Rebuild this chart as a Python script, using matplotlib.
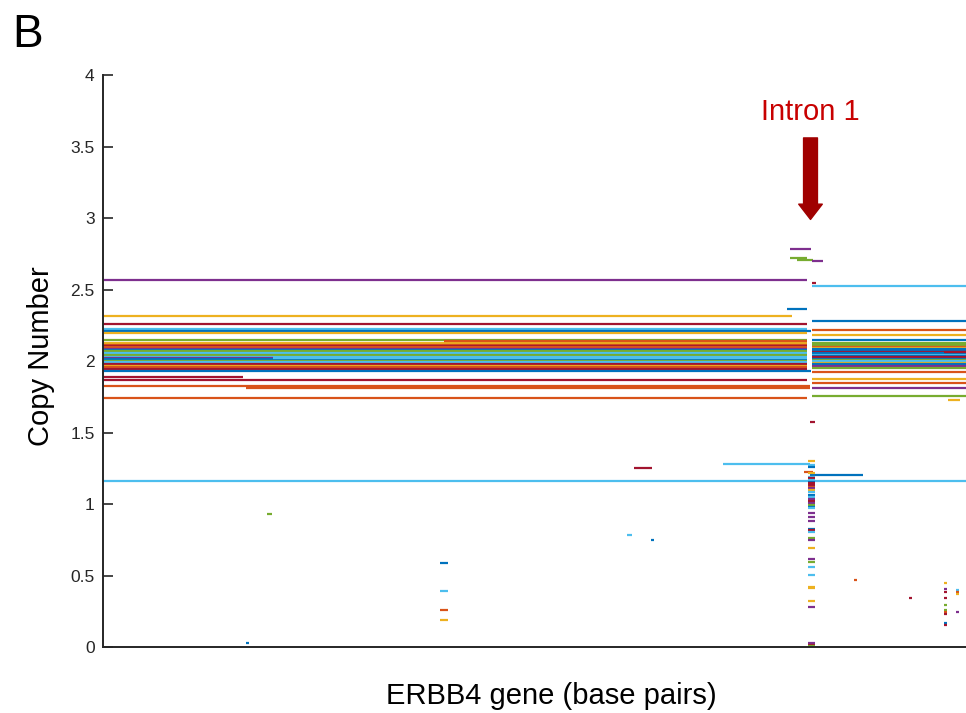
import matplotlib
matplotlib.use('Agg')
import matplotlib.pyplot as plt
from matplotlib.patches import FancyArrowPatch

plt.rcParams['font.family'] = ['Liberation Sans', 'DejaVu Sans']

# MATLAB default line colours
palette = {'b': '#0072BD', 'o': '#D95319', 'y': '#EDB120', 'p': '#7E2F8E',
           'g': '#77AC30', 'c': '#4DBEEE', 'r': '#A2142F'}

# gene length in kb (x axis has no ticks)
gene_len = 1160

# segments before intron 1 (start at 0 kb)
left_cn = [2.566, 2.315, 2.26, 2.226, 2.212, 2.198, 2.149,
           2.124, 2.114, 2.105, 2.096, 2.086, 2.077, 2.068, 2.058, 2.049,
           2.040, 2.030, 2.021, 2.012, 2.002, 1.993, 1.979, 1.965, 1.956,
           1.946, 1.928, 1.89, 1.865, 1.828, 1.743]
left_end = [946, 926, 946, 946, 952, 946, 946,
            946, 946, 946, 946, 946, 946, 946, 946, 946,
            946, 946, 228, 946, 946, 946, 946, 946, 946,
            946, 952, 188, 946, 950, 946]
left_col = ['p', 'y', 'r', 'c', 'b', 'y', 'g',
            'y', 'o', 'r', 'o', 'p', 'b', 'g', 'c', 'c',
            'g', 'c', 'p', 'b', 'g', 'c', 'r', 'y', 'o',
            'r', 'b', 'r', 'r', 'o', 'o']

# segments after intron 1 (end at gene end)
right_start = 953
right_cn = [2.527, 2.282, 2.217, 2.184, 2.149,
            2.124, 2.110, 2.100, 2.091, 2.082, 2.072, 2.063, 2.054, 2.044,
            2.035, 2.026, 2.016, 2.007, 1.998, 1.988, 1.979, 1.965, 1.951,
            1.923, 1.872, 1.844, 1.809, 1.757]
right_col = ['c', 'b', 'o', 'y', 'b',
             'g', 'g', 'o', 'y', 'b', 'b', 'r', 'b', 'c',
             'b', 'r', 'b', 'g', 'c', 'y', 'b', 'p', 'g',
             'o', 'y', 'o', 'p', 'g']

# other segments: start kb, end kb, copy number, colour
short_start = [0, 192, 228, 459, 919, 923, 923, 933, 953, 953, 833, 950,
               714, 950, 942, 1136, 1131,
               221, 192, 453, 453, 453, 453, 704, 736, 1010, 1084,
               1131, 1131, 1131, 1131, 1131, 1131, 1131, 1131, 1131, 1131,
               1147, 1147, 1147, 1147]
short_end = [1160, 950, 946, 946, 946, 952, 946, 954, 968, 958, 950, 1021,
             738, 957, 955, 1152, 1160,
             227, 196, 464, 464, 464, 464, 711, 740, 1014, 1088,
             1135, 1135, 1135, 1135, 1135, 1135, 1135, 1135, 1135, 1135,
             1151, 1151, 1151, 1151]
short_cn = [1.163, 1.814, 2.021, 2.14, 2.367, 2.781, 2.72, 2.705, 2.70, 2.545,
            1.28, 1.205, 1.252, 1.573, 1.226, 1.727, 2.06,
            0.928, 0.028, 0.587, 0.392, 0.259, 0.189, 0.783, 0.748, 0.469, 0.343,
            0.45, 0.406, 0.387, 0.343, 0.294, 0.259, 0.247, 0.229, 0.166, 0.154,
            0.399, 0.383, 0.369, 0.243]
short_col = ['c', 'o', 'c', 'o', 'b', 'p', 'g', 'g', 'p', 'r',
             'c', 'b', 'r', 'r', 'o', 'y', 'r',
             'g', 'b', 'b', 'c', 'o', 'y', 'c', 'b', 'o', 'r',
             'y', 'p', 'r', 'r', 'g', 'g', 'o', 'r', 'b', 'r',
             'c', 'o', 'y', 'p']

# small segments inside intron 1
col_start, col_end = 947, 957
col_cn = [1.303, 1.273, 1.261, 1.215, 1.191, 1.18, 1.168, 1.156, 1.145,
          1.133, 1.121, 1.11, 1.098, 1.082, 1.063, 1.051, 1.033, 1.023,
          1.009, 0.993, 0.981, 0.97, 0.935, 0.911, 0.881, 0.825, 0.818,
          0.802, 0.76, 0.748, 0.694, 0.613, 0.597, 0.562, 0.506, 0.422,
          0.41, 0.324, 0.278, 0.026, 0.014, 0.007]
col_col = ['y', 'c', 'b', 'y', 'c', 'r', 'c', 'b', 'r',
           'r', 'o', 'p', 'y', 'c', 'b', 'c', 'p', 'r',
           'p', 'g', 'b', 'c', 'p', 'p', 'p', 'b', 'r',
           'c', 'g', 'p', 'y', 'p', 'g', 'c', 'c', 'y',
           'y', 'y', 'p', 'p', 'r', 'g']

fig = plt.figure(figsize=(9.66, 7.13), dpi=100)
ax = fig.add_axes([103 / 966, 66 / 713, 863 / 966, 572 / 713])

lw = 1.6
ax.hlines(left_cn, 0, left_end, colors=[palette[c] for c in left_col], linewidth=lw)
ax.hlines(right_cn, right_start, gene_len, colors=[palette[c] for c in right_col], linewidth=lw)
ax.hlines(short_cn, short_start, short_end, colors=[palette[c] for c in short_col], linewidth=lw)
ax.hlines(col_cn, col_start, col_end, colors=[palette[c] for c in col_col], linewidth=lw)

ax.set_xlim(0, gene_len)
ax.set_ylim(0, 4)
ax.set_yticks([0, 0.5, 1, 1.5, 2, 2.5, 3, 3.5, 4])
ax.set_yticklabels(['0', '0.5', '1', '1.5', '2', '2.5', '3', '3.5', '4'])
ax.set_xticks([])
ax.tick_params(axis='y', direction='in', length=7, width=1.2, pad=6,
               labelsize=12.5, colors='#262626')
for s in ['top', 'right']:
    ax.spines[s].set_visible(False)
for s in ['left', 'bottom']:
    ax.spines[s].set_color('#262626')
    ax.spines[s].set_linewidth(1.4)

ax.set_ylabel('Copy Number', fontsize=21)
ax.yaxis.set_label_coords(-0.056, 0.508)
ax.set_xlabel('ERBB4 gene (base pairs)', fontsize=21)
ax.xaxis.set_label_coords(0.519, -0.062)

# Intron 1 marker
ax.text(951, 3.74, 'Intron 1', color='#C80000', fontsize=21, ha='center', va='center')
arrow = FancyArrowPatch((951, 3.56), (951, 2.99),
                        arrowstyle='simple,head_length=11,head_width=17,tail_width=10',
                        mutation_scale=1, color='#A00000', shrinkA=0, shrinkB=0)
ax.add_patch(arrow)

fig.text(12 / 966, 1 - 47 / 713, 'B', fontsize=33, va='baseline')

plt.savefig('out.png', dpi=100)
